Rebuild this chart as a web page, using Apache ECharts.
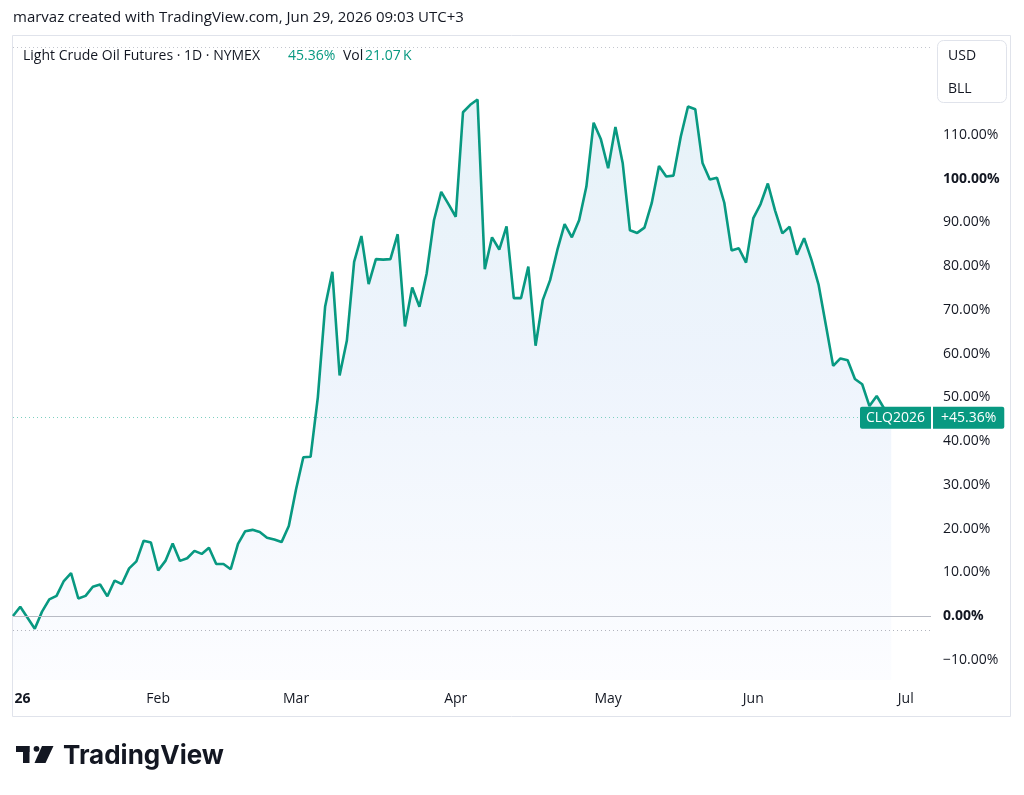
<!DOCTYPE html>
<html lang="en" style="height: 100%">
<head>
  <meta charset="utf-8">
</head>
<body style="height: 100%; margin: 0">
  <div id="container" style="width: 1024px; height: 795px"></div>

  <script type="text/javascript" src="https://cdn.jsdelivr.net/npm/echarts@6/dist/echarts.min.js"></script>

  <script type="text/javascript">
    // trading calendar (daily bars, exchange holidays skipped)
    var firstDay = '2026-01-02';
    var lastDay = '2026-07-01';
    var holidays = ['2026-01-19', '2026-02-16', '2026-04-03', '2026-05-25', '2026-06-19'];
    var monthNames = ['26', 'Feb', 'Mar', 'Apr', 'May', 'Jun', 'Jul'];

    // % change vs first bar, one value per trading day (Jan 2 .. Jun 29)
    var pctChange = [
      0, 2.1, -0.4, -2.9, 1.0, 3.8, 4.6, 8.0, 9.8, 4.0,
      4.6, 6.7, 7.2, 4.5, 8.1, 7.3, 10.9, 12.5, 17.2, 16.8,
      10.4, 12.6, 16.6, 12.6, 13.2, 14.9, 14.2, 15.6, 11.9, 11.9,
      10.7, 16.5, 19.4, 19.7, 19.2, 17.9, 17.5, 16.9, 20.6, 29.0,
      36.3, 36.4, 50.0, 70.7, 78.7, 55.0, 63.0, 81.0, 86.9, 75.9,
      81.6, 81.5, 81.6, 87.3, 66.2, 75.1, 70.7, 78.4, 90.5, 97.0,
      94.2, 91.3, 115.2, 116.9, 118.1, 79.3, 86.6, 83.8, 89.1, 72.7,
      72.7, 79.9, 61.8, 72.3, 76.8, 83.7, 89.6, 86.6, 90.5, 98.2,
      112.8, 109.0, 102.4, 111.8, 103.6, 88.2, 87.6, 88.8, 94.4, 102.9,
      100.5, 100.7, 109.6, 116.5, 115.9, 103.6, 99.8, 100.2, 94.5, 83.6,
      84.1, 80.8, 91.0, 94.2, 98.9, 92.7, 87.5, 89.0, 82.6, 86.4,
      81.5, 75.7, 66.5, 57.2, 58.9, 58.5, 54.2, 53.0, 48.0, 50.3,
      47.5, 45.36
    ];

    var yTicks = [-10, 0, 10, 20, 30, 40, 50, 60, 70, 80, 90, 100, 110];
    var boldTicks = [0, 100];
    var lastPct = 45.36;
    var prevCloseLine = -3.2;
    var highLine = 130;

    var dates = [];
    (function () {
      var d = new Date(firstDay + 'T00:00:00Z');
      var end = new Date(lastDay + 'T00:00:00Z');
      while (d <= end) {
        var s = d.toISOString().slice(0, 10);
        var wd = d.getUTCDay();
        if (wd !== 0 && wd !== 6 && holidays.indexOf(s) < 0) dates.push(s);
        d.setUTCDate(d.getUTCDate() + 1);
      }
    })();

    var monthStarts = [];
    for (var i = 0; i < dates.length; i++) {
      if (i === 0 || dates[i].slice(5, 7) !== dates[i - 1].slice(5, 7)) monthStarts.push(i);
    }

    var lineData = pctChange.map(function (v, i) { return [i, v]; });

    var txt = '#131722';
    var teal = '#089981';
    var font = '"Open Sans", sans-serif';

    var dom = document.getElementById('container');
    var myChart = echarts.init(dom, null, { renderer: 'canvas' });

    var option = {
      animation: false,
      backgroundColor: '#ffffff',
      textStyle: { fontFamily: font },
      grid: {
        left: 13,
        right: 93,
        top: 36,
        bottom: 115,
        outerBoundsMode: 'none'
      },
      xAxis: {
        type: 'value',
        min: 0,
        max: 126.48,
        axisLine: { show: false },
        axisTick: { show: false },
        splitLine: { show: false },
        axisLabel: {
          customValues: monthStarts,
          margin: 12,
          color: txt,
          fontSize: 14,
          fontFamily: font,
          formatter: function (v) {
            var m = +dates[v].slice(5, 7);
            if (m === 1) return '{yr|' + monthNames[0] + '}';
            return monthNames[m - 1];
          },
          rich: {
            yr: { fontWeight: 'bold', fontSize: 14, color: txt, fontFamily: font, padding: [0, 0, 0, 19] }
          }
        }
      },
      yAxis: {
        type: 'value',
        position: 'right',
        min: -14.635,
        max: 132.63,
        axisLine: { show: false },
        axisTick: { show: false },
        splitLine: { show: false },
        axisLabel: {
          customValues: yTicks,
          margin: 12,
          color: txt,
          fontSize: 14,
          fontFamily: font,
          formatter: function (v) {
            var s = (v < 0 ? '\u2212' : '') + Math.abs(v).toFixed(2) + '%';
            return boldTicks.indexOf(v) >= 0 ? '{b|' + s + '}' : s;
          },
          rich: {
            b: { fontWeight: 'bold', fontSize: 14, color: txt, fontFamily: font }
          }
        }
      },
      series: [
        {
          type: 'line',
          data: lineData,
          showSymbol: false,
          symbol: 'none',
          lineStyle: { color: teal, width: 2.6 },
          areaStyle: {
            origin: 'start',
            color: new echarts.graphic.LinearGradient(0, 0, 0, 1, [
              { offset: 0, color: '#dcedf5' },
              { offset: 0.45, color: '#e6effb' },
              { offset: 1, color: '#fbfcff' }
            ])
          },
          markLine: {
            silent: true,
            symbol: ['none', 'none'],
            animation: false,
            data: [
              { yAxis: 0, lineStyle: { color: '#b8bbc4', type: 'solid', width: 1 }, label: { show: false } },
              { yAxis: prevCloseLine, lineStyle: { color: '#b2b5be', type: [1, 3], width: 1 }, label: { show: false } },
              { yAxis: highLine, lineStyle: { color: '#c3c6ce', type: [1, 3], width: 1 }, label: { show: false } },
              {
                yAxis: lastPct,
                lineStyle: { color: '#7ccfbf', type: [1, 3], width: 1 },
                label: {
                  show: true,
                  position: 'end',
                  distance: 2,
                  formatter: '+' + lastPct.toFixed(2) + '%',
                  backgroundColor: teal,
                  color: '#ffffff',
                  fontSize: 14,
                  fontFamily: font,
                  lineHeight: 14,
                  padding: [4, 8],
                  borderRadius: [0, 2, 2, 0]
                }
              }
            ]
          }
        }
      ],
      graphic: [
        {
          type: 'rect', silent: true,
          shape: { x: 12.5, y: 35.5, width: 998, height: 681 },
          style: { fill: 'none', stroke: '#e0e3eb', lineWidth: 1 }
        },
        {
          type: 'rect', silent: true,
          shape: { x: 937.5, y: 40.5, width: 69, height: 62, r: 6 },
          style: { fill: '#ffffff', stroke: '#e0e3eb', lineWidth: 1 }
        },
        { type: 'text', x: 948, y: 56, style: { text: 'USD', fill: txt, font: '14px ' + font, verticalAlign: 'middle' } },
        { type: 'text', x: 948, y: 89, style: { text: 'BLL', fill: txt, font: '14px ' + font, verticalAlign: 'middle' } },
        {
          type: 'text', x: 13, y: 18,
          style: { text: 'marvaz created with TradingView.com, Jun 29, 2026 09:03 UTC+3', fill: txt, font: '15px ' + font, verticalAlign: 'middle' }
        },
        { type: 'text', x: 23, y: 56, style: { text: 'Light Crude Oil Futures \u00b7 1D \u00b7 NYMEX', fill: txt, font: '14px ' + font, verticalAlign: 'middle' } },
        { type: 'text', x: 288, y: 56, style: { text: '45.36%', fill: teal, font: '14px ' + font, verticalAlign: 'middle' } },
        { type: 'text', x: 343, y: 56, style: { text: 'Vol', fill: txt, font: '14px ' + font, verticalAlign: 'middle' } },
        { type: 'text', x: 365, y: 56, style: { text: '21.07\u2009K', fill: teal, font: '14px ' + font, verticalAlign: 'middle' } },
        // TradingView logo
        { type: 'rect', shape: { x: 16, y: 746, width: 13.5, height: 6 }, style: { fill: txt } },
        { type: 'rect', shape: { x: 23, y: 746, width: 6.5, height: 17 }, style: { fill: txt } },
        { type: 'circle', shape: { cx: 36.5, cy: 748.8, r: 2.9 }, style: { fill: txt } },
        { type: 'polygon', shape: { points: [[42, 746], [53.5, 746], [45.5, 763], [34.5, 763]] }, style: { fill: txt } },
        { type: 'text', x: 63, y: 756, style: { text: 'TradingView', fill: txt, font: 'bold 26px Inter, sans-serif', verticalAlign: 'middle' } }
      ]
    };

    myChart.setOption(option);

    // symbol tag on the last-value line, left of the price scale
    var yLast = myChart.convertToPixel({ yAxisIndex: 0 }, lastPct);
    myChart.setOption({
      graphic: option.graphic.concat([
        {
          type: 'rect', silent: true, z: 10,
          shape: { x: 860, y: yLast - 11, width: 71, height: 22, r: [2, 0, 0, 2] },
          style: { fill: teal }
        },
        {
          type: 'text', silent: true, z: 11, x: 895.5, y: yLast,
          style: { text: 'CLQ2026', fill: '#ffffff', font: '14px ' + font, align: 'center', verticalAlign: 'middle' }
        }
      ])
    });

    window.addEventListener('resize', myChart.resize);
  </script>
</body>
</html>
